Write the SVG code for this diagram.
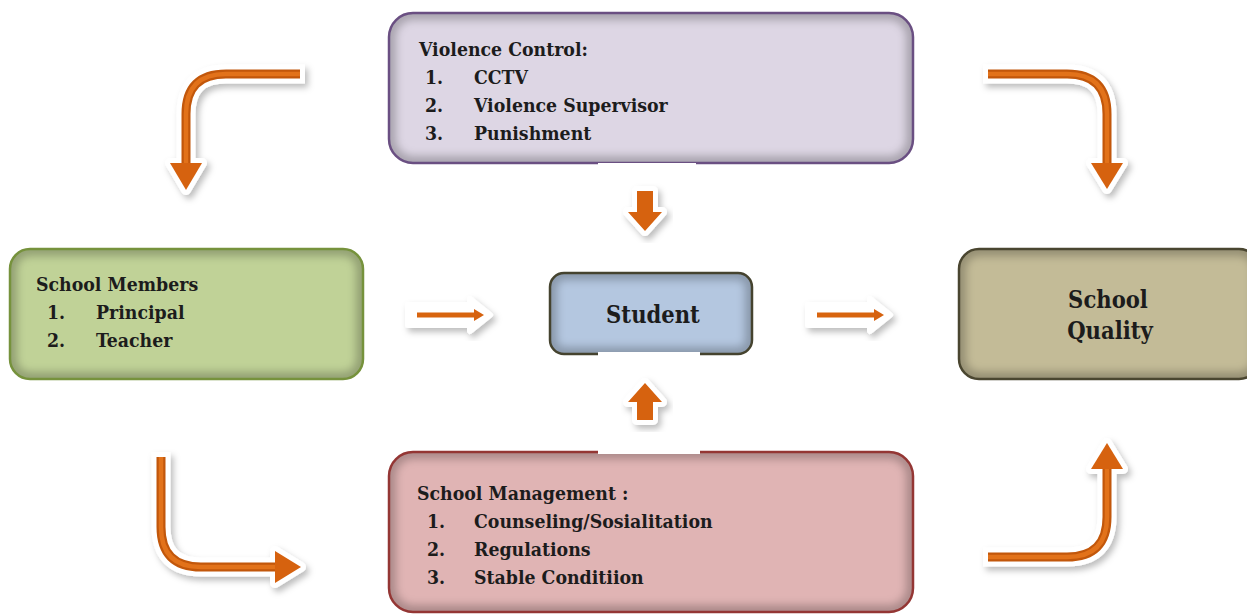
<svg xmlns="http://www.w3.org/2000/svg" width="1247" height="614" viewBox="0 0 1247 614">
  <defs>
    <style>
      .lbl{font-family:'DejaVu Serif Condensed','DejaVu Serif','Liberation Serif',serif;font-stretch:condensed;font-weight:bold;font-size:19.3px;fill:#1c1c1c}
      .big{font-size:23.5px}
      .box-edge{fill:none;stroke-width:2.5}
      .shade{fill:none;stroke:#000;stroke-opacity:0.24;stroke-width:14}
      .halo{fill:#fff;stroke:#fff;stroke-linejoin:round}
      .halo-line{fill:none;stroke:#fff;stroke-width:19}
      .orange-line{fill:none;stroke:#c2570b;stroke-width:9}
      .orange-core{fill:none;stroke:#e2721a;stroke-width:4.5}
      .orange-head{fill:#d6620f}
      .thin{fill:none;stroke:#d8640e;stroke-width:5}
      .gap{fill:#fff}
    </style>
    <!-- soft drop shadow for arrows -->
    <filter id="sh" x="-20%" y="-20%" width="150%" height="150%">
      <feDropShadow dx="3" dy="4" stdDeviation="3" flood-color="#000" flood-opacity="0.26"/>
    </filter>
    <!-- blur used for the inner edge shading of the boxes -->
    <filter id="soft" x="-10%" y="-10%" width="120%" height="120%">
      <feGaussianBlur stdDeviation="4"/>
    </filter>
    <clipPath id="c-vc"><rect x="389" y="13" width="524" height="150" rx="24"/></clipPath>
    <clipPath id="c-sm"><rect x="10" y="249" width="353" height="130" rx="20"/></clipPath>
    <clipPath id="c-st"><rect x="550" y="273" width="202" height="81" rx="14"/></clipPath>
    <clipPath id="c-sq"><rect x="959" y="249" width="300" height="130" rx="20"/></clipPath>
    <clipPath id="c-mg"><rect x="389" y="452" width="524" height="160" rx="24"/></clipPath>
  </defs>

  <rect width="1247" height="614" fill="#fff"/>

  <!-- Violence Control -->
  <g id="violence-control">
    <rect x="389" y="13" width="524" height="150" rx="24" fill="#ddd6e4"/>
    <rect x="389" y="13" width="524" height="150" rx="24" class="shade" filter="url(#soft)" clip-path="url(#c-vc)"/>
    <rect x="389" y="13" width="524" height="150" rx="24" class="box-edge" stroke="#6a4f82"/>
    <text class="lbl" x="419" y="56">Violence Control:</text>
    <text class="lbl" x="425" y="84">1.</text><text class="lbl" x="474" y="84">CCTV</text>
    <text class="lbl" x="425" y="112">2.</text><text class="lbl" x="474" y="112">Violence Supervisor</text>
    <text class="lbl" x="425" y="140">3.</text><text class="lbl" x="474" y="140">Punishment</text>
  </g>

  <!-- School Members -->
  <g id="school-members">
    <rect x="10" y="249" width="353" height="130" rx="20" fill="#c0d297"/>
    <rect x="10" y="249" width="353" height="130" rx="20" class="shade" filter="url(#soft)" clip-path="url(#c-sm)"/>
    <rect x="10" y="249" width="353" height="130" rx="20" class="box-edge" stroke="#76923c"/>
    <text class="lbl" x="36" y="291">School Members</text>
    <text class="lbl" x="47" y="319">1.</text><text class="lbl" x="96" y="319">Principal</text>
    <text class="lbl" x="47" y="347">2.</text><text class="lbl" x="96" y="347">Teacher</text>
  </g>

  <!-- Student -->
  <g id="student">
    <rect x="550" y="273" width="202" height="81" rx="14" fill="#b4c7e0"/>
    <rect x="550" y="273" width="202" height="81" rx="14" class="shade" filter="url(#soft)" clip-path="url(#c-st)"/>
    <rect x="550" y="273" width="202" height="81" rx="14" class="box-edge" stroke="#45432f"/>
    <text class="lbl big" x="653" y="323" text-anchor="middle">Student</text>
  </g>

  <!-- School Quality -->
  <g id="school-quality">
    <rect x="959" y="249" width="300" height="130" rx="20" fill="#c3bb97"/>
    <rect x="959" y="249" width="300" height="130" rx="20" class="shade" filter="url(#soft)" clip-path="url(#c-sq)"/>
    <rect x="959" y="249" width="300" height="130" rx="20" class="box-edge" stroke="#4a4630"/>
    <text class="lbl big" x="1108" y="308" text-anchor="middle">School</text>
    <text class="lbl big" x="1110" y="339" text-anchor="middle">Quality</text>
  </g>

  <!-- School Management -->
  <g id="school-management">
    <rect x="389" y="452" width="524" height="160" rx="24" fill="#e0b4b4"/>
    <rect x="389" y="452" width="524" height="160" rx="24" class="shade" filter="url(#soft)" clip-path="url(#c-mg)"/>
    <rect x="389" y="452" width="524" height="160" rx="24" class="box-edge" stroke="#943634"/>
    <text class="lbl" x="417" y="500">School Management :</text>
    <text class="lbl" x="427" y="528">1.</text><text class="lbl" x="474" y="528">Counseling/Sosialitation</text>
    <text class="lbl" x="427" y="556">2.</text><text class="lbl" x="474" y="556">Regulations</text>
    <text class="lbl" x="427" y="584">3.</text><text class="lbl" x="474" y="584">Stable Conditiion</text>
  </g>

  <g id="connectors">
    <!-- top-left bend: into School Members -->
    <g filter="url(#sh)">
      <path class="halo-line" d="M305,74 H226 Q186,74 186,114 V165"/>
      <polygon class="halo" stroke-width="10" points="170,163 202,163 186,190"/>
    </g>
    <path class="orange-line" d="M300,74 H226 Q186,74 186,114 V165"/>
    <path class="orange-core" d="M300,74 H226 Q186,74 186,114 V165"/>
    <polygon class="orange-head" points="170,163 202,163 186,190"/>

    <!-- top-right bend: into School Quality -->
    <g filter="url(#sh)">
      <path class="halo-line" d="M983,74 H1067 Q1107,74 1107,114 V165"/>
      <polygon class="halo" stroke-width="10" points="1091,163 1123,163 1107,189"/>
    </g>
    <path class="orange-line" d="M988,74 H1067 Q1107,74 1107,114 V165"/>
    <path class="orange-core" d="M988,74 H1067 Q1107,74 1107,114 V165"/>
    <polygon class="orange-head" points="1091,163 1123,163 1107,189"/>

    <!-- bottom-left bend: into School Management -->
    <g filter="url(#sh)">
      <path class="halo-line" d="M161,452 V527 Q161,567 201,567 H277"/>
      <polygon class="halo" stroke-width="10" points="275,551 275,583 301,567"/>
    </g>
    <path class="orange-line" d="M161,457 V527 Q161,567 201,567 H277"/>
    <path class="orange-core" d="M161,457 V527 Q161,567 201,567 H277"/>
    <polygon class="orange-head" points="275,551 275,583 301,567"/>

    <!-- bottom-right bend: into School Quality -->
    <g filter="url(#sh)">
      <path class="halo-line" d="M983,557 H1067 Q1107,557 1107,517 V467"/>
      <polygon class="halo" stroke-width="10" points="1091,469 1123,469 1107,443"/>
    </g>
    <path class="orange-line" d="M988,557 H1067 Q1107,557 1107,517 V467"/>
    <path class="orange-core" d="M988,557 H1067 Q1107,557 1107,517 V467"/>
    <polygon class="orange-head" points="1091,469 1123,469 1107,443"/>

    <!-- Violence Control to Student -->
    <rect class="gap" x="598" y="163" width="98" height="6"/>
    <polygon class="halo" stroke-width="10" filter="url(#sh)" points="637,191 653,191 653,212 662,212 645,231 628,212 637,212"/>
    <polygon class="orange-head" points="637,191 653,191 653,212 662,212 645,231 628,212 637,212"/>

    <!-- School Management to Student -->
    <rect class="gap" x="598" y="352" width="102" height="5"/>
    <rect class="gap" x="598" y="449" width="102" height="5"/>
    <polygon class="halo" stroke-width="10" filter="url(#sh)" points="637,420 653,420 653,402 662,402 645,383 628,402 637,402"/>
    <polygon class="orange-head" points="637,420 653,420 653,402 662,402 645,383 628,402 637,402"/>

    <!-- School Members to Student -->
    <polygon class="halo" stroke-width="6" filter="url(#sh)" points="408,305 470,305 470,299 490,315 470,331 470,325 408,325"/>
    <line class="thin" x1="417" y1="315" x2="476" y2="315"/>
    <polygon class="orange-head" points="474,309 474,321 484,315"/>

    <!-- Student to School Quality -->
    <polygon class="halo" stroke-width="6" filter="url(#sh)" points="808,305 870,305 870,299 890,315 870,331 870,325 808,325"/>
    <line class="thin" x1="817" y1="315" x2="876" y2="315"/>
    <polygon class="orange-head" points="874,309 874,321 884,315"/>
  </g>
</svg>
